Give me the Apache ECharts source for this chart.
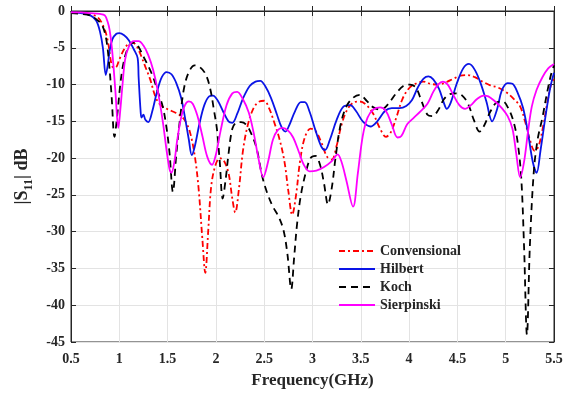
<!DOCTYPE html>
<html><head><meta charset="utf-8">
<script src="https://cdn.jsdelivr.net/npm/echarts@6/dist/echarts.min.js"></script>
<style>html,body{margin:0;padding:0;background:#fff}#c{width:585px;height:397px}</style>
</head><body><div id="c"></div>
<script>
const seriesNames = ['Convensional', 'Hilbert', 'Koch', 'Sierpinski'];
const xTicks = [0.5, 1, 1.5, 2, 2.5, 3, 3.5, 4, 4.5, 5, 5.5];
const yTicks = [0, -5, -10, -15, -20, -25, -30, -35, -40, -45];

const convF = [0.5,0.6,0.7,0.78,0.84,0.88,0.91,0.93,0.96,1.0,1.05,1.1,1.14,1.18,1.22,1.27,1.32,1.37,1.42,1.49,1.56,1.63,1.68,1.73,1.78,1.82,1.86,1.89,1.92,1.95,1.99,2.04,2.08,2.13,2.17,2.2,2.24,2.28,2.33,2.39,2.45,2.5,2.55,2.6,2.66,2.71,2.75,2.79,2.83,2.87,2.92,2.98,3.03,3.09,3.15,3.2,3.25,3.3,3.36,3.43,3.49,3.56,3.63,3.7,3.76,3.81,3.87,3.93,4.0,4.08,4.15,4.22,4.3,4.38,4.46,4.53,4.6,4.68,4.76,4.84,4.92,5.0,5.08,5.15,5.2,5.25,5.3,5.34,5.39,5.43,5.47,5.5];
const convDb = [-0.2,-0.25,-0.4,-0.9,-2.2,-4.0,-6.6,-7.6,-7.7,-6.6,-5.2,-4.4,-4.3,-4.8,-5.9,-7.6,-9.3,-11.5,-12.7,-13.3,-13.7,-14.2,-14.9,-16.4,-19.6,-24,-31,-35.6,-30,-24,-21.2,-20.0,-20.3,-22,-25.5,-27.4,-24,-19,-15.5,-13.2,-12.3,-12.2,-13.2,-15,-17.5,-20.5,-24.5,-27.7,-25,-20.5,-17.2,-16.0,-16.3,-17.8,-19.8,-20.2,-18.3,-15.5,-13.4,-12.4,-12.3,-12.8,-14.0,-16.0,-17.1,-16.5,-14.4,-12.0,-10.5,-9.8,-9.6,-9.9,-10.0,-9.7,-9.2,-8.8,-8.7,-9.0,-9.6,-10.1,-10.4,-11.0,-11.9,-13.0,-15.0,-17.5,-19.0,-18.4,-15.5,-12.5,-10.0,-9.2];

const hilbF = [0.5,0.6,0.7,0.76,0.8,0.83,0.86,0.88,0.9,0.93,0.97,1.0,1.05,1.1,1.15,1.19,1.2,1.22,1.23,1.25,1.27,1.3,1.34,1.39,1.44,1.49,1.54,1.59,1.64,1.68,1.72,1.75,1.78,1.83,1.88,1.93,1.97,2.02,2.08,2.13,2.17,2.22,2.28,2.35,2.41,2.46,2.51,2.57,2.63,2.68,2.72,2.76,2.82,2.88,2.92,2.97,3.03,3.09,3.13,3.18,3.25,3.32,3.39,3.45,3.52,3.6,3.67,3.75,3.82,3.9,3.97,4.03,4.09,4.15,4.2,4.25,4.31,4.36,4.39,4.43,4.49,4.56,4.62,4.68,4.74,4.8,4.86,4.91,4.96,5.02,5.07,5.12,5.18,5.23,5.28,5.32,5.36,5.41,5.46,5.5];
const hilbDb = [-0.2,-0.3,-0.6,-1.3,-2.8,-5.0,-8.7,-7.4,-5.4,-3.8,-3.1,-3.0,-3.3,-4.0,-5.2,-6.4,-9,-13.5,-14.5,-14.1,-14.8,-15.1,-13.7,-11.0,-9.0,-8.3,-8.6,-9.8,-11.8,-14.5,-17.5,-19.6,-18.5,-15.3,-12.8,-11.6,-11.5,-12.2,-13.8,-15.0,-15.2,-14.0,-11.9,-10.2,-9.6,-9.5,-10.2,-11.8,-14.0,-15.8,-16.4,-15.5,-13.6,-12.4,-12.4,-13.7,-16.2,-18.4,-18.9,-17.5,-14.8,-13.0,-12.8,-13.6,-15.0,-15.7,-15.0,-13.6,-13.2,-13.2,-12.9,-12.1,-10.4,-9.2,-8.9,-9.3,-10.6,-12.5,-13.3,-12.5,-10.0,-7.8,-7.2,-8.0,-9.8,-12.3,-15.0,-13.4,-10.8,-9.8,-9.9,-11.0,-13.2,-16.5,-20.5,-22.0,-19.0,-14.5,-10.5,-8.4];

const kochF = [0.5,0.6,0.7,0.76,0.82,0.86,0.89,0.92,0.95,0.98,1.01,1.04,1.08,1.12,1.16,1.2,1.25,1.3,1.35,1.4,1.45,1.49,1.52,1.555,1.59,1.63,1.67,1.72,1.78,1.83,1.89,1.94,1.98,2.01,2.04,2.07,2.1,2.13,2.17,2.21,2.26,2.31,2.36,2.42,2.48,2.53,2.59,2.65,2.7,2.74,2.78,2.81,2.84,2.88,2.93,2.98,3.03,3.08,3.12,3.16,3.2,3.24,3.29,3.35,3.42,3.49,3.56,3.63,3.71,3.78,3.86,3.94,4.01,4.07,4.13,4.19,4.24,4.3,4.36,4.42,4.49,4.55,4.61,4.67,4.73,4.78,4.84,4.91,4.97,5.03,5.08,5.12,5.16,5.19,5.22,5.25,5.29,5.33,5.38,5.43,5.47,5.5];
const kochDb = [-0.3,-0.4,-0.6,-1.1,-1.9,-3.5,-6.5,-11.5,-17.1,-14,-10,-7.3,-5.3,-4.4,-4.3,-4.9,-6.2,-7.5,-9.0,-11,-13,-16,-19.3,-24.6,-19.5,-14.5,-10.5,-8.3,-7.4,-7.6,-8.5,-10.5,-13.5,-16,-20.5,-25.5,-23,-19.5,-16.0,-15.2,-15.1,-15.4,-16.5,-18.6,-22.5,-24.7,-26.6,-28,-29.8,-33,-37.8,-33.5,-29,-25,-22,-20.0,-19.7,-21,-23.5,-26.3,-24,-19.8,-15.5,-13,-11.8,-11.4,-12.2,-13.1,-13.4,-12.7,-11.3,-10.2,-10.0,-10.4,-12.3,-14.1,-14.3,-13.5,-12.0,-11.3,-11.2,-11.5,-12.6,-14.8,-16.4,-15.5,-13.7,-12.4,-12.3,-13.3,-15.0,-17.5,-22.5,-32,-44.0,-32,-22,-17.5,-14.5,-11,-8.6,-7.4];

const sierF = [0.5,0.6,0.7,0.8,0.85,0.88,0.9,0.92,0.94,0.96,0.99,1.01,1.03,1.06,1.1,1.15,1.2,1.25,1.3,1.35,1.4,1.45,1.49,1.52,1.54,1.57,1.6,1.64,1.68,1.72,1.76,1.81,1.86,1.91,1.96,2.0,2.05,2.11,2.17,2.22,2.28,2.34,2.39,2.44,2.49,2.54,2.59,2.64,2.69,2.75,2.8,2.86,2.91,2.97,3.04,3.12,3.2,3.26,3.3,3.35,3.42,3.47,3.52,3.57,3.63,3.7,3.76,3.82,3.88,3.92,3.98,4.05,4.12,4.19,4.25,4.3,4.35,4.4,4.45,4.52,4.58,4.64,4.7,4.77,4.82,4.89,4.96,5.02,5.07,5.11,5.15,5.19,5.23,5.27,5.32,5.38,5.44,5.5];
const sierDb = [-0.2,-0.2,-0.3,-0.4,-0.6,-1.5,-2.6,-4.6,-7.5,-11,-15.9,-13.5,-10.5,-6.6,-4.8,-4.1,-4.1,-4.7,-6.0,-8.0,-11.0,-15,-19,-21.5,-22,-20.5,-17.5,-14.5,-12.8,-12.3,-12.6,-14.3,-17,-19.8,-20.9,-19.5,-16.2,-12.8,-11.2,-11.0,-12.0,-13.8,-16.5,-20.0,-22.6,-20.5,-17.5,-16.2,-15.9,-16.3,-17.2,-19.2,-20.9,-21.8,-21.7,-21.2,-20.4,-19.5,-20.5,-23.0,-26.6,-22,-17,-14.5,-13.4,-13.1,-13.6,-15.4,-17.2,-17.0,-15.4,-14.5,-13.6,-12.6,-11.0,-10.0,-9.6,-10.0,-11.2,-12.8,-13.3,-12.8,-12.0,-11.5,-11.6,-12.3,-13.2,-14.3,-16,-19.5,-22.6,-20.5,-16.5,-13,-10.7,-9.0,-7.8,-7.2];

const pairs = (xs, ys) => xs.map((x, i) => [x, ys[i]]);
const FONT = '"Liberation Serif", "Times New Roman", serif';

const chart = echarts.init(document.getElementById('c'), null, {renderer: 'canvas'});
const axisLine = {show: true, lineStyle: {color: '#262626', width: 1}};
const tick = {show: true, inside: true, length: 5, lineStyle: {color: '#262626'}};
const lbl = {fontFamily: FONT, fontWeight: 'bold', fontSize: 14, color: '#262626'};

const mk = (name, data, color, type, w) => ({
  name, type: 'line', data, symbol: 'none', showSymbol: false, smooth: 0.35, xAxisIndex: 0, yAxisIndex: 0,
  lineStyle: {color, width: w, type}, itemStyle: {color}, animation: false
});

chart.setOption({
  animation: false,
  grid: {left: 71, right: 31, top: 11, bottom: 55, show: true, borderColor: '#262626', borderWidth: 1, backgroundColor: '#fff'},
  legend: {
    orient: 'vertical', left: 333, top: 239, itemWidth: 36, itemHeight: 10, itemGap: 4,
    data: seriesNames,
    itemStyle: {opacity: 0},
    textStyle: {fontFamily: FONT, fontWeight: 'bold', fontSize: 14, color: '#262626', lineHeight: 14}
  },
  xAxis: [{
    type: 'value', min: 0.5, max: 5.5, interval: 0.5,
    axisLine, axisTick: tick,
    axisLabel: Object.assign({margin: 10, formatter: v => xTicks.includes(v) ? String(v) : ''}, lbl),
    splitLine: {show: true, lineStyle: {color: '#e3e3e3', width: 1}},
    name: 'Frequency(GHz)', nameLocation: 'middle', nameGap: 30,
    nameTextStyle: {fontFamily: FONT, fontWeight: 'bold', fontSize: 17, color: '#262626'}
  }, {
    type: 'value', position: 'top', min: 0.5, max: 5.5, interval: 0.5,
    axisLine, axisTick: tick, axisLabel: {show: false}, splitLine: {show: false}
  }],
  yAxis: [{
    type: 'value', min: -45, max: 0, interval: 5,
    axisLine, axisTick: tick,
    axisLabel: Object.assign({margin: 6, formatter: v => yTicks.includes(v) ? String(v) : ''}, lbl),
    splitLine: {show: true, lineStyle: {color: '#e3e3e3', width: 1}},
    name: '{t||S}{s|11}{t|| dB}', nameLocation: 'middle', nameGap: 40, nameRotate: 90,
    nameTextStyle: {
      rich: {
        t: {fontFamily: FONT, fontWeight: 'bold', fontSize: 18, color: '#262626', lineHeight: 22, verticalAlign: 'bottom'},
        s: {fontFamily: FONT, fontWeight: 'bold', fontSize: 12, color: '#262626', lineHeight: 22, verticalAlign: 'bottom', padding: [0, 0, -4, 0]}
      }
    }
  }, {
    type: 'value', position: 'right', min: -45, max: 0, interval: 5,
    axisLine, axisTick: tick, axisLabel: {show: false}, splitLine: {show: false}
  }],
  series: [
    mk(seriesNames[0], pairs(convF, convDb), '#ff0000', [6, 3, 2, 3], 1.8),
    mk(seriesNames[1], pairs(hilbF, hilbDb), '#0a14e6', 'solid', 1.8),
    mk(seriesNames[2], pairs(kochF, kochDb), '#000000', [7, 5], 1.8),
    mk(seriesNames[3], pairs(sierF, sierDb), '#ff00ff', 'solid', 1.8)
  ]
});
</script></body></html>
